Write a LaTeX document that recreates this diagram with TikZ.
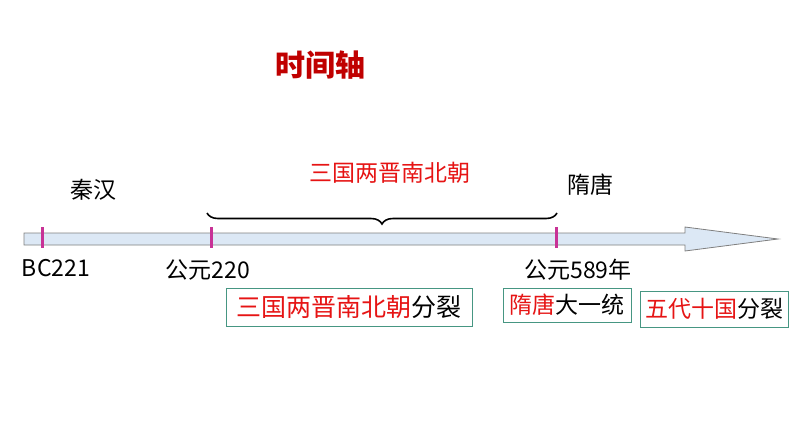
\documentclass[tikz,border=0pt]{standalone}
\usepackage{fontspec}
\setmainfont{Noto Sans CJK SC}
\usetikzlibrary{decorations.pathreplacing}
\definecolor{tred}{RGB}{230,20,20}
\definecolor{dred}{RGB}{192,0,0}
\definecolor{tick}{RGB}{200,50,150}
\definecolor{boxc}{RGB}{70,150,130}
\tikzset{lbl/.style={font=\fontsize{23}{26}\selectfont, inner sep=0pt},
 bx/.style={draw=boxc, line width=0.8pt, inner sep=1pt, font=\fontsize{25}{27}\selectfont},
 tk/.style={draw=tick, line width=3pt}}
\begin{document}
\begin{tikzpicture}[x=1pt,y=-1pt]
\useasboundingbox (0,0) rectangle (794,447);
\fill[white] (0,0) rectangle (794,447);
\node[font=\fontsize{30}{33}\selectfont\bfseries, text=dred] (title) at (320,65) {时间轴};
\draw[fill={rgb,255:red,220;green,232;blue,245}, draw=gray, line width=0.8pt]
 (24,233) -- (685,233) -- (685,227) -- (778,239) -- (685,251) -- (685,245) -- (24,245) -- cycle;
\coordinate (t1a) at (42,227); \coordinate (t1b) at (42,248);
\coordinate (t2a) at (211,227); \coordinate (t2b) at (211,248);
\coordinate (t3a) at (556,227); \coordinate (t3b) at (556,248);
\draw[tk] (t1a) -- (t1b); \draw[tk] (t2a) -- (t2b); \draw[tk] (t3a) -- (t3b);
\coordinate (ba) at (207,213); \coordinate (bb) at (557,213);
\draw[decorate, decoration={brace, amplitude=11pt}, line width=1.6pt] (bb) -- (ba);
\node[lbl] (qh) at (93,190) {秦汉};
\node[lbl, text=tred] (sg) at (390,173) {三国两晋南北朝};
\node[lbl] (st) at (590,185) {隋唐};
\node[lbl] (bc) at (56,268) {BC221};
\node[lbl] (g220) at (208,270) {公元220};
\node[lbl] (g589) at (578,270) {公元589年};
\node[bx, minimum width=246pt, minimum height=38pt] (b1) at (349,307) {\textcolor{tred}{三国两晋南北朝}分裂};
\node[bx, minimum width=128pt, minimum height=34pt, font=\fontsize{23}{25}\selectfont] (b2) at (567,305) {\textcolor{tred}{隋唐}大一统};
\node[bx, minimum width=148pt, minimum height=36pt, font=\fontsize{23}{25}\selectfont] (b3) at (714,309) {\textcolor{tred}{五代十国}分裂};
\end{tikzpicture}
\end{document}
